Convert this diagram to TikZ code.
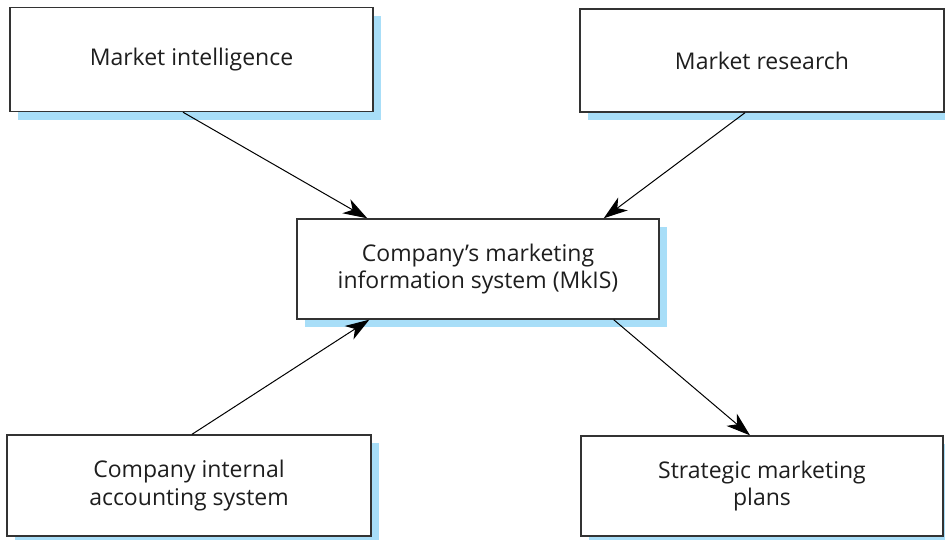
\documentclass[tikz,border=0pt]{standalone}
\usepackage{fontspec}
\setmainfont{Open Sans}
\usetikzlibrary{arrows.meta,shadows}
\definecolor{shadowblue}{RGB}{168,222,248}
\definecolor{boxline}{RGB}{51,51,51}
\definecolor{textgray}{RGB}{30,30,30}
\tikzset{
  infobox/.style={draw=boxline, line width=1.4pt, fill=white, align=center,
    text=textgray, font=\fontsize{23}{27.5}\selectfont, inner sep=0pt,
    copy shadow={shadow xshift=8pt, shadow yshift=-8pt, fill=shadowblue, draw=none}},
  flow/.style={-{Stealth[length=24pt,width=16pt,inset=7pt]}, line width=1pt}
}
\begin{document}
\begin{tikzpicture}[x=1pt,y=-1pt]
\useasboundingbox (0,0) rectangle (945,539);
\node (intel) at (191.5, 59.5) [infobox, minimum width=363pt, minimum height=104pt] {Market intelligence};
\node (research) at (762, 60.5) [infobox, minimum width=364pt, minimum height=103pt] {Market research};
\node (mkis) at (478, 269) [infobox, minimum width=362pt, minimum height=100pt] {Company’s marketing\\information system (MkIS)};
\node (accounts) at (189, 485.5) [infobox, minimum width=364pt, minimum height=101pt] {Company internal\\accounting system};
\node (plans) at (762, 486) [infobox, minimum width=362pt, minimum height=100pt] {Strategic marketing\\plans};
\draw [flow] ([xshift=-8.5pt]intel.south) -- ([xshift=71pt]mkis.north west);
\draw [flow] ([xshift=-17pt]research.south) -- ([xshift=-56pt]mkis.north east);
\draw [flow] ([xshift=3pt]accounts.north) -- ([xshift=73pt]mkis.south west);
\draw [flow] ([xshift=-46pt]mkis.south east) -- ([xshift=-12pt]plans.north);
\end{tikzpicture}
\end{document}
